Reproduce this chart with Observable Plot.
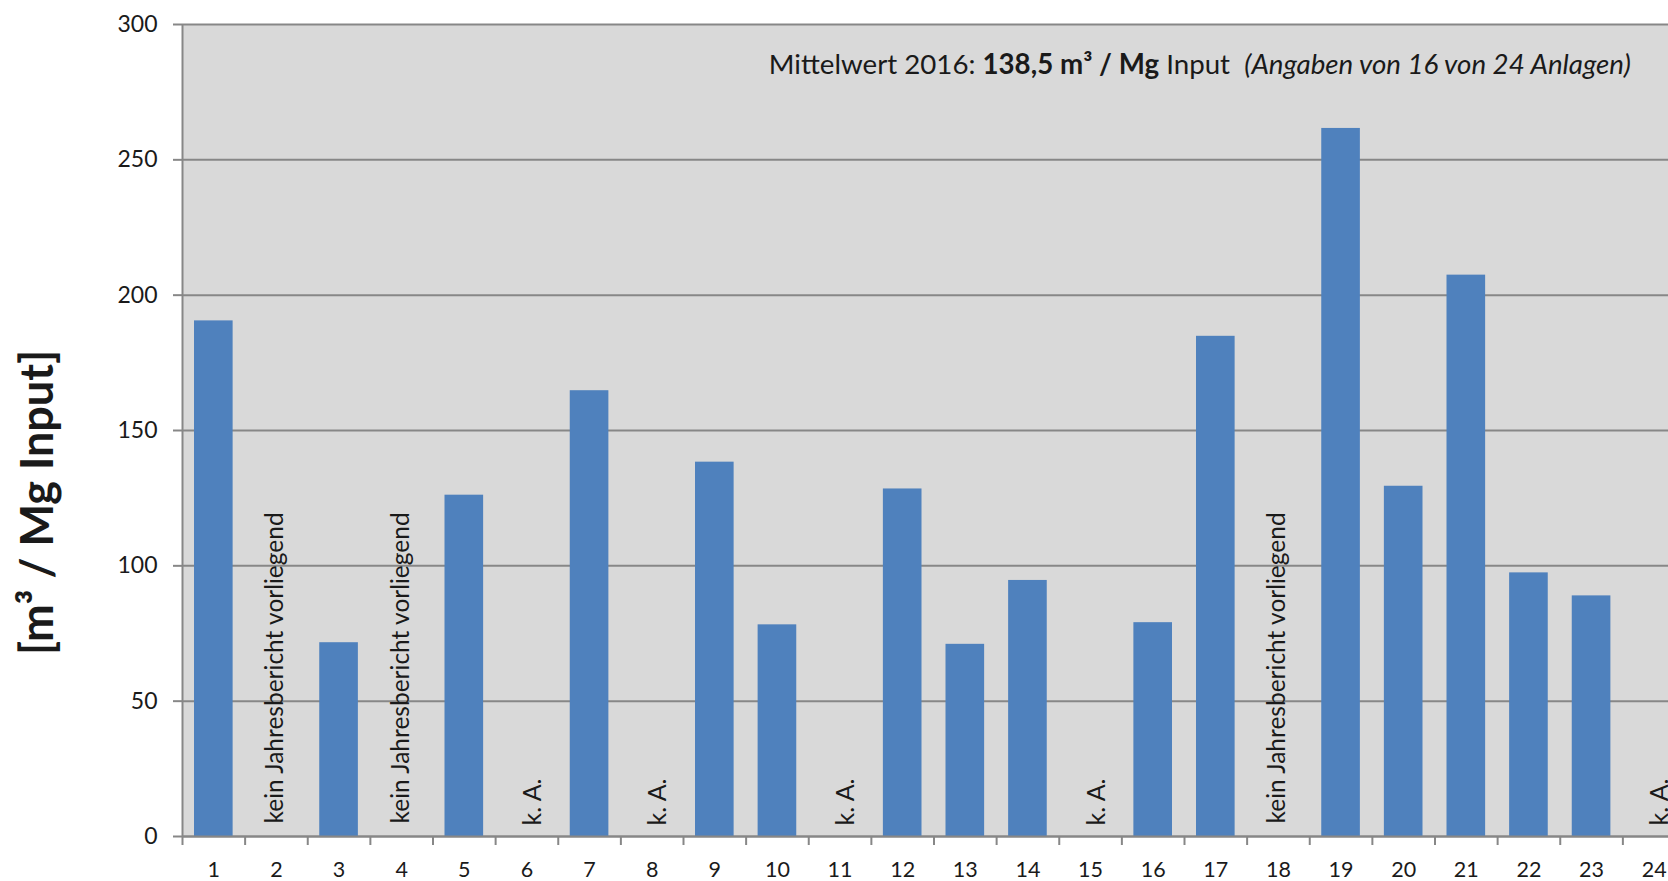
<!DOCTYPE html>
<html>
<head>
<meta charset="utf-8">
<script src="https://cdn.jsdelivr.net/npm/d3@7"></script>
<script src="https://cdn.jsdelivr.net/npm/@observablehq/plot@0.6"></script>
<style>
html, body { margin: 0; padding: 0; background: #fff; overflow: hidden; }
#chart { width: 1668px; height: 881px; }
</style>
</head>
<body>
<div id="chart"></div>
<script>
// ---- data ----
const plants = [1,2,3,4,5,6,7,8,9,10,11,12,13,14,15,16,17,18,19,20,21,22,23,24];
const values = [190.5, null, 71.6, null, 126.1, null, 164.7, null, 138.3, 78.2, null, 128.4,
                71.0, 94.6, null, 79.0, 184.8, null, 261.6, 129.4, 207.4, 97.4, 88.9, null];
const noReportPlants = [2, 4, 18];
const noReportLabel = "kein Jahresbericht vorliegend";
const naPlants = [6, 8, 11, 15, 24];
const naLabel = "k. A.";
const yTicks = [0, 50, 100, 150, 200, 250, 300];
const yTitle = "[m³ / Mg Input]";
const notePlain1 = "Mittelwert 2016: ";
const noteBold = "138,5 m³ / Mg";
const notePlain2 = " Input  ";
const noteItalic = "(Angaben von 16 von 24 Anlagen)";
const noteFull = notePlain1 + noteBold + notePlain2 + noteItalic;

// ---- derived tables ----
const bars = plants.map((p, i) => ({plant: p, value: values[i]})).filter(d => d.value != null);
const boundaries = plants.map(p => p - 0.5).concat([plants[plants.length - 1] + 0.5]);

const gridColor = "#878787";
const textColor = "#1a1a1a";

const chart = Plot.plot({
  width: 1668,
  height: 881,
  marginLeft: 182,
  marginRight: -17,
  marginTop: 24,
  marginBottom: 45,
  style: {fontFamily: "Lato, 'Open Sans', sans-serif", background: "#fff", color: textColor},
  x: {type: "linear", domain: [boundaries[0], boundaries[boundaries.length - 1]]},
  y: {domain: [0, 300]},
  marks: [
    Plot.frame({fill: "#d9d9d9", stroke: null}),
    Plot.gridY(yTicks, {stroke: gridColor, strokeOpacity: 1, strokeWidth: 2}),
    Plot.rect(bars, {
      x1: d => d.plant - 0.5, x2: d => d.plant + 0.5,
      y1: 0, y2: "value",
      insetLeft: 12, insetRight: 12,
      fill: "#4f81bd"
    }),
    Plot.ruleX([boundaries[0]], {stroke: gridColor, strokeWidth: 2}),
    Plot.ruleY([0], {stroke: gridColor, strokeWidth: 2}),
    Plot.axisY(yTicks, {
      tickSize: 9, tickPadding: 16, stroke: gridColor, strokeWidth: 2,
      fill: textColor, fontSize: 23, label: null
    }),
    Plot.axisX(boundaries, {
      tickSize: 9, stroke: gridColor, strokeWidth: 2, tickFormat: () => "", label: null
    }),
    Plot.axisX(plants, {
      tickSize: 0, tickPadding: 25, fontSize: 21.5, fill: textColor,
      tickFormat: d => String(d), label: null
    }),
    Plot.text(noReportPlants, {
      x: d => d, y: () => 0, text: () => noReportLabel,
      rotate: -90, textAnchor: "start", dy: -13, dx: -1,
      fontSize: 24.5, fill: textColor
    }),
    Plot.text(naPlants, {
      x: d => d, y: () => 0, text: () => naLabel,
      rotate: -90, textAnchor: "start", dy: -11, dx: 6,
      fontSize: 25, fill: textColor
    }),
    Plot.text([yTitle], {
      text: d => d, frameAnchor: "left", rotate: -90, textAnchor: "middle",
      dx: -144, dy: 72, fontSize: 45, fontWeight: "bold", fill: textColor
    }),
    Plot.text([noteFull], {
      text: d => d, x: () => 23.5, y: () => 285, textAnchor: "end",
      dx: 8, fontSize: 27.7, fill: textColor
    })
  ]
});

document.getElementById("chart").appendChild(chart);

// Rebuild the note text with mixed styles (bold / italic runs)
d3.select(chart).selectAll("text").filter(function() { return this.textContent === noteFull; })
  .each(function() {
    const t = d3.select(this);
    t.text(null);
    t.append("tspan").text(notePlain1);
    t.append("tspan").attr("font-weight", "bold").text(noteBold);
    t.append("tspan").text(notePlain2);
    t.append("tspan").attr("font-style", "italic").text(noteItalic);
  });
</script>
</body>
</html>
